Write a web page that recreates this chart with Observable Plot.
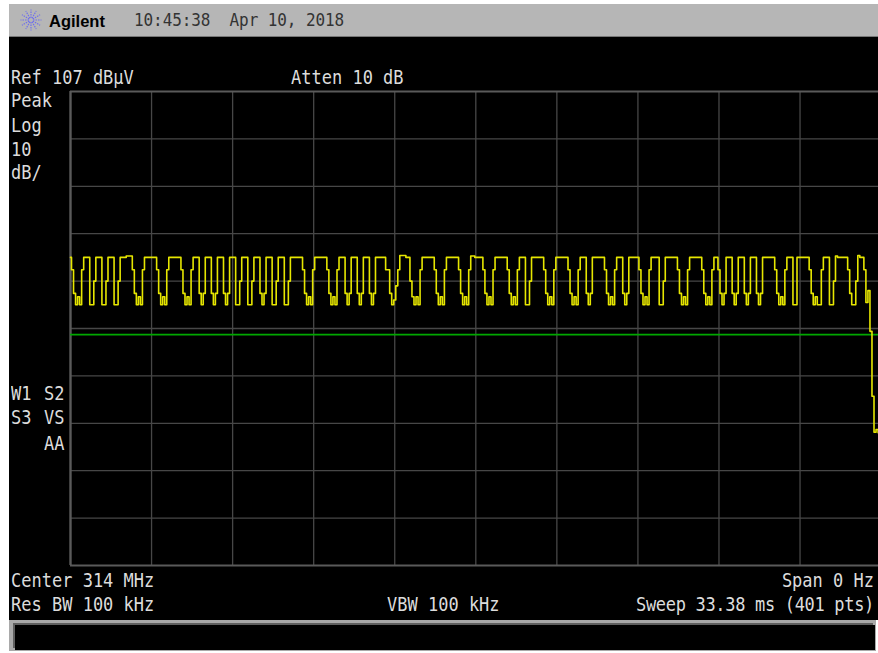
<!DOCTYPE html>
<html><head><meta charset="utf-8">
<script src="https://cdn.jsdelivr.net/npm/d3@7"></script>
<script src="https://cdn.jsdelivr.net/npm/@observablehq/plot@0.6"></script>
<style>
html,body{margin:0;padding:0;background:#fff;width:878px;height:653px;overflow:hidden}
#stage{position:relative;width:878px;height:653px;overflow:hidden}
#screen{position:absolute;left:9px;top:37px;width:869px;height:583px;background:#000}
#head{position:absolute;left:9px;top:4px;width:869px;height:32px;background:#b6b6b6;border-bottom:1px solid #777}
#foot{position:absolute;left:9px;top:620px;width:867px;height:31px;background:#a9a9a9}
#msg{position:absolute;left:15px;top:625px;width:860px;height:25px;background:#000;box-shadow:-2px -2px 0 #5f5f5f}
#plot{position:absolute;left:0;top:0}
#plot svg{overflow:hidden;display:block;background:transparent}
.t{position:absolute;font:17px "DejaVu Sans Mono",monospace;color:#dcdcdc;white-space:pre;line-height:18px;transform:scaleY(1.12);transform-origin:left center}
.r{transform-origin:right center}
.d{color:#333;font-size:16px;letter-spacing:-0.08px}
.b{font:bold 16.5px "Liberation Sans",Arial,sans-serif;color:#000;transform:none}
</style></head><body><div id="stage">
<div id="screen"></div><div id="head"></div><div id="foot"></div><div id="msg"></div>
<div id="plot"></div>
</div>
<script>
// One amplitude reading in dBµV per sweep point, 0 to 400
const traceDb = [
72,69.4,64.4,62,63.7,62,69.4, 72,72,72, 62,62,67, 72,72,72, 62,62,67, 72,72,72, 62,62,67,
72,72,72,72.3,72.3,72.3, 69.4,64.4,62,63.7,62,69.4, 72,72,72,72,72,72, 69.4,64.4,62,63.7,62,69.4,
72,72,72,72,72,72, 69.4,64.4,62,63.7,62,69.4, 72,72,72, 64.4,62,64.4, 72,72,72, 64.4,62,64.4,
72,72,72, 64.4,62,64.4, 72,72,72, 62,62,67, 72,72,72, 62,62,67, 72,72,72, 64.4,62,64.4,
72,72,72, 62,62,67, 72,72,72, 62,62,67, 72,72,72,72,72,72, 69.4,64.4,62,63.7,62,69.4,
72,72,72,72,72,72, 69.4,64.4,62,63.7,62,69.4, 72,72,72, 64.4,62,64.4, 72,72,72, 64.4,62,64.4,
72,72,72, 64.4,62,64.4, 72,72,72,72,72, 69.4,69.4,64.4,62,63,66,69.4,
72.4,72.4,72.4,72,72, 67,63.7,62,63.7,62,69.4, 72,72,72,72,72,72, 69.4,64.4,62,63.7,62,69.4,
72,72,72,72,72,72, 69.4,64.4,62,63.7,62,69.4, 72.3,72.3,72,72,72,72, 69.4,64.4,62,63.7,62,69.4,
72,72,72,72,72,72, 69.4,64.4,62,63.7,62,69.4, 72,72,72, 62,62,67, 72,72,72,72,72,72, 69.4,64.4,62,63.7,62,69.4,
72,72,72,72,72,72, 69.4,64.4,62,63.7,62,69.4, 72,72,72, 64.4,62,64.4, 72,72,72,72,72,72, 69.4,64.4,62,63.7,62,69.4,
72,72,72, 64.4,62,64.4, 72,72,72,72,72, 69.4,64.4,62,63.7,62,69.4, 72,72,72,72, 62,62,67,
72,72,72,72,72,72, 69.4,64.4,62,63.7,62,69.4, 72,72,72,72,72,72, 69.4,64.4,62,63.7,62,69.4,
72,72, 69.4,64.4,62,64.4, 72,72,72, 64.4,62,64.4, 72,72,72, 64.4,62,64.4, 72,72,72, 64.4,62,64.4,
72,72,72,72,72,72, 69.4,64.4,62,63.7,62,69.4, 72,72,72, 62,62, 72,72,72,72,72,72,
69.4,64.4,62,63.7,62,62,69.4, 72,72,72, 62,62,67, 72.3,72,72,72,72,72, 69.4,64.4,62,62,67,
72.4,72,72, 69.4,62.5,65,56.4,42.7,35.1,35.7,35,35,35
];
const gridPoints = [0,40,80,120,160,200,240,280,320,360,400];
const gridDb = [107,97,87,77,67,57,47,37,27,17,7];
const displayLineDb = 55.7;
const clockText = "10:45:38  Apr 10, 2018";
const brandText = "Agilent";
const refText = "Ref 107 dBµV";
const attenText = "Atten 10 dB";
const modeLabels = ["Peak","Log","10","dB/"];
const centerText = "Center 314 MHz";
const spanText = "Span 0 Hz";
const rbwText = "Res BW 100 kHz";
const vbwText = "VBW 100 kHz";
const sweepText = "Sweep 33.38 ms (401 pts)";

const trace = traceDb.map((db,i)=>({i,db}));
const chart = Plot.plot({
  width:878,height:653,
  marginLeft:0,marginRight:0,marginTop:0,marginBottom:0,
  x:{domain:[0,400],range:[70,880.6],axis:null},
  y:{domain:[7,107],range:[565,91],axis:null},
  style:{background:"transparent"},
  marks:[
    Plot.ruleX(gridPoints.slice(1),{y1:7,y2:107,stroke:"#474747",strokeWidth:1.3}),
    Plot.ruleY(gridDb.slice(1,-1),{x1:0,x2:400,stroke:"#474747",strokeWidth:1.3}),
    Plot.ruleX(gridPoints.slice(0,1),{y1:7,y2:107,stroke:"#5a5a5a",strokeWidth:2.4}),
    Plot.ruleY([gridDb[0],gridDb[10]],{x1:0,x2:400,stroke:"#5a5a5a",strokeWidth:2.2}),
    Plot.ruleY([displayLineDb],{x1:0,x2:400,stroke:"#00a800",strokeWidth:1.8}),
    Plot.line(trace,{x:"i",y:"db",stroke:"#e6e600",strokeWidth:1.6,curve:"step"})
  ]
});
document.getElementById("plot").append(chart);

const stage=document.getElementById("stage");
function label(text,cls,css){const e=document.createElement("div");e.className="t "+cls;e.textContent=text;
  Object.assign(e.style,css);stage.append(e);return e;}
label(clockText,"d",{left:"134px",top:"11px"});
label(brandText,"b",{left:"49px",top:"12px"});
label(refText,"",{left:"11px",top:"68px"});
label(attenText,"",{left:"291px",top:"68px"});
[91,116,140,163].forEach((y,k)=>label(modeLabels[k],"",{left:"11px",top:y+"px"}));
label("W1","",{left:"11px",top:"384px"});
label("S2","",{left:"44px",top:"384px"});
label("S3","",{left:"11px",top:"408px"});
label("VS","",{left:"44px",top:"408px"});
label("AA","",{left:"44px",top:"434px"});
label(centerText,"",{left:"11px",top:"571px"});
label(rbwText,"",{left:"11px",top:"595px"});
label(vbwText,"",{left:"387px",top:"595px"});
label(spanText,"r",{right:"4px",top:"571px"});
label(sweepText,"r",{right:"4px",top:"595px",letterSpacing:"-0.32px"});

// Agilent spark logo in the header
const ns="http://www.w3.org/2000/svg";
const logo=document.createElementNS(ns,"svg");
logo.setAttribute("width",24);logo.setAttribute("height",24);
logo.style.cssText="position:absolute;left:19px;top:8px";
for(let a=0;a<12;a++){const l=document.createElementNS(ns,"line");
  const c=Math.cos(a*Math.PI/6),s=Math.sin(a*Math.PI/6);
  l.setAttribute("x1",12+2*c);l.setAttribute("y1",12+2*s);
  l.setAttribute("x2",12+10.5*c);l.setAttribute("y2",12+10.5*s);
  l.setAttribute("stroke","#6c6cf0");l.setAttribute("stroke-width",1.1);
  l.setAttribute("stroke-dasharray","1.5 1");logo.append(l);}
stage.append(logo);
</script></body></html>
